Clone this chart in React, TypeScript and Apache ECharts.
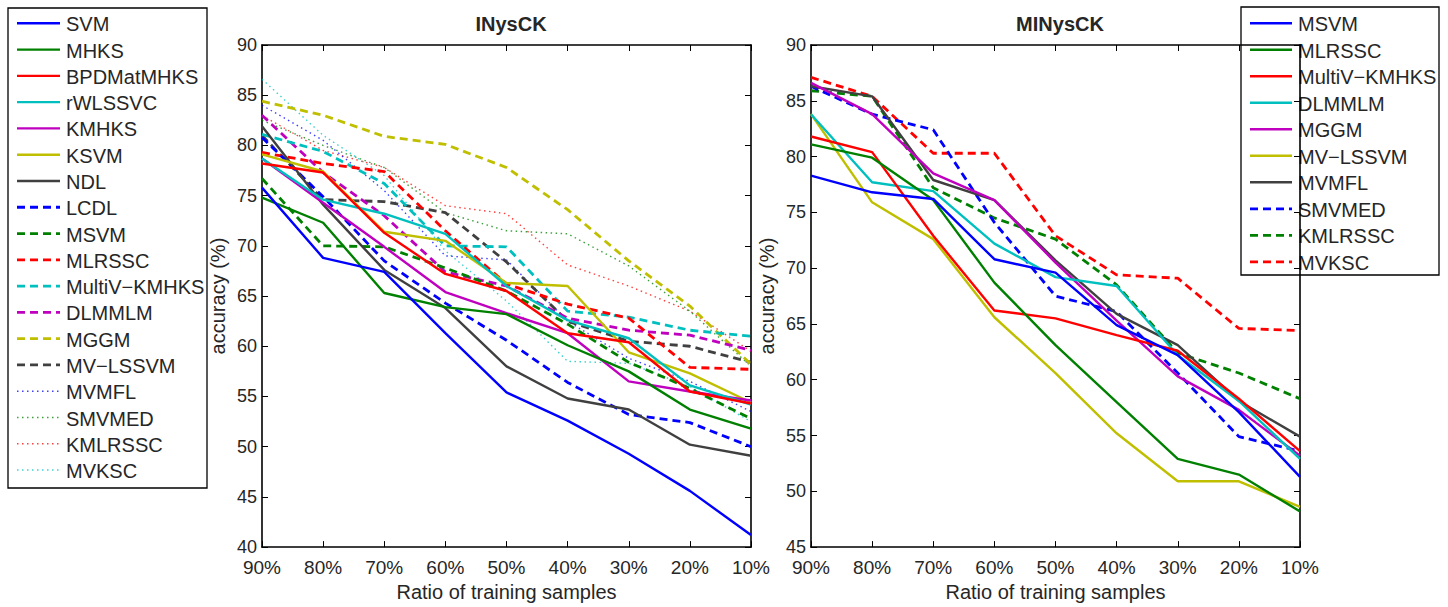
import React, { useEffect, useRef } from "react";
import * as echarts from "echarts";

const ratios = ["90%", "80%", "70%", "60%", "50%", "40%", "30%", "20%", "10%"];

// Left panel (INysCK)
const leftNames = ["SVM", "MHKS", "BPDMatMHKS", "rWLSSVC", "KMHKS", "KSVM", "NDL", "LCDL", "MSVM", "MLRSSC", "MultiV−KMHKS", "DLMMLM", "MGGM", "MV−LSSVM", "MVMFL", "SMVMED", "KMLRSSC", "MVKSC"];
const lSVM = [75.8, 68.8, 67.4, 61.3, 55.4, 52.6, 49.3, 45.6, 41.2];
const lMHKS = [74.8, 72.3, 65.3, 63.9, 63.2, 60.1, 57.5, 53.7, 51.8];
const lBPDMatMHKS = [78.2, 77.3, 71.3, 67.2, 65.5, 61.3, 60.4, 55.5, 54.3];
const lRWLSSVC = [78.7, 74.6, 73.2, 71.2, 66.0, 62.6, 60.8, 56.1, 54.2];
const lKMHKS = [78.7, 74.3, 69.9, 65.4, 63.3, 61.3, 56.5, 55.5, 54.6];
const lKSVM = [79.1, 77.4, 71.4, 70.5, 66.3, 66.0, 59.4, 57.3, 54.4];
const lNDL = [81.9, 74.1, 67.6, 63.8, 58.0, 54.8, 53.7, 50.2, 49.1];
const lLCDL = [80.8, 74.9, 68.5, 64.3, 60.6, 56.4, 53.2, 52.4, 50.0];
const lMSVM = [76.7, 70.0, 69.9, 67.8, 65.5, 62.2, 58.4, 55.8, 52.8];
const lMLRSSC = [79.3, 78.2, 77.4, 71.5, 66.2, 64.2, 62.8, 57.9, 57.7];
const lMultiV = [81.1, 79.4, 76.2, 70.0, 69.9, 63.5, 62.9, 61.6, 61.0];
const lDLMMLM = [83.0, 77.3, 73.0, 67.4, 66.0, 62.8, 61.6, 61.1, 59.6];
const lMGGM = [84.4, 83.0, 80.9, 80.1, 77.8, 73.6, 68.5, 64.0, 58.2];
const lMVLSSVM = [81.0, 74.6, 74.4, 73.3, 68.4, 62.5, 60.5, 60.0, 58.4];
const lMVMFL = [84.0, 80.5, 75.5, 69.0, 68.6, 62.5, 58.8, 56.5, 53.5];
const lSMVMED = [82.5, 80.0, 77.8, 73.3, 71.5, 71.2, 68.0, 63.5, 58.0];
const lKMLRSSC = [83.0, 79.5, 77.8, 74.0, 73.2, 68.1, 66.0, 63.5, 59.5];
const lMVKSC = [86.6, 81.0, 77.0, 69.5, 64.5, 58.5, 58.3, 56.0, 52.5];
const leftValues = [lSVM, lMHKS, lBPDMatMHKS, lRWLSSVC, lKMHKS, lKSVM, lNDL, lLCDL, lMSVM, lMLRSSC, lMultiV, lDLMMLM, lMGGM, lMVLSSVM, lMVMFL, lSMVMED, lKMLRSSC, lMVKSC];

// Right panel (MINysCK)
const rightNames = ["MSVM", "MLRSSC", "MultiV−KMHKS", "DLMMLM", "MGGM", "MV−LSSVM", "MVMFL", "SMVMED", "KMLRSSC", "MVKSC"];
const rMSVM = [78.3, 76.8, 76.2, 70.8, 69.6, 64.9, 62.2, 57.1, 51.3];
const rMLRSSC = [81.1, 79.9, 76.1, 68.7, 63.1, 58.0, 52.9, 51.5, 48.2];
const rMultiV = [81.8, 80.4, 72.9, 66.2, 65.5, 64.0, 62.6, 58.3, 53.6];
const rDLMMLM = [83.8, 77.7, 76.9, 72.2, 69.2, 68.4, 62.2, 58.1, 52.9];
const rMGGM = [86.6, 83.8, 78.5, 76.1, 70.5, 65.3, 60.3, 57.3, 53.2];
const rMVLSSVM = [83.8, 75.9, 72.6, 65.6, 60.6, 55.2, 50.9, 50.9, 48.6];
const rMVMFL = [86.3, 85.4, 77.9, 76.1, 70.7, 65.9, 63.1, 58.1, 54.9];
const rSMVMED = [86.3, 83.8, 82.4, 74.1, 67.5, 66.1, 60.6, 54.9, 53.6];
const rKMLRSSC = [85.9, 85.4, 77.2, 74.5, 72.6, 68.5, 62.4, 60.6, 58.3];
const rMVKSC = [87.1, 85.4, 80.3, 80.3, 72.9, 69.4, 69.1, 64.6, 64.4];
const rightValues = [rMSVM, rMLRSSC, rMultiV, rDLMMLM, rMGGM, rMVLSSVM, rMVMFL, rSMVMED, rKMLRSSC, rMVKSC];

const palette = ["#0000ff", "#008000", "#ff0000", "#00bfbf", "#bf00bf", "#bfbf00", "#404040"];

type Sty = { color: string; kind: "solid" | "dashed" | "dotted" };
const styleFor = (i: number): Sty => {
  const color = palette[i % 7];
  const kind = i < 7 ? "solid" : i < 14 ? "dashed" : "dotted";
  return { color, kind };
};

const lineStyleOf = (s: Sty) => {
  if (s.kind === "solid") return { color: s.color, width: 2.4, type: "solid" as any };
  if (s.kind === "dashed") return { color: s.color, width: 2.8, type: [8, 5] as any };
  return { color: s.color, width: 1.4, type: [1.5, 3.5] as any, opacity: 0.75 };
};

const FONT = "Liberation Sans, Arial, Helvetica, sans-serif";
const TXT = "#262626";

export default function App() {
  const ref = useRef<HTMLDivElement>(null);
  useEffect(() => {
    if (!ref.current) return;
    const chart = echarts.init(ref.current, undefined, { renderer: "svg" });

    const grids = [
      { left: 262, top: 45, width: 489, height: 513 },
      { left: 811, top: 45, width: 489, height: 513 },
    ];
    const yRanges = [
      [40, 90],
      [45, 90],
    ];

    const xAxis: any[] = [];
    const yAxis: any[] = [];
    grids.forEach((_, g) => {
      xAxis.push({
        type: "category",
        gridIndex: g,
        data: ratios,
        boundaryGap: false,
        position: "bottom",
        name: "Ratio of training samples",
        nameLocation: "middle",
        nameGap: 31,
        nameTextStyle: { fontFamily: FONT, fontSize: 20, color: TXT },
        axisLine: { lineStyle: { color: "#000", width: 1.6 } },
        axisTick: { inside: true, length: 6, lineStyle: { color: "#000" } },
        axisLabel: { fontFamily: FONT, fontSize: 19, color: TXT, margin: 11, interval: 0 },
        splitLine: { show: false },
      });
      xAxis.push({
        type: "category",
        gridIndex: g,
        data: ratios,
        boundaryGap: false,
        position: "top",
        axisLine: { lineStyle: { color: "#000", width: 1.6 } },
        axisTick: { inside: true, length: 6, lineStyle: { color: "#000" } },
        axisLabel: { show: false },
        splitLine: { show: false },
      });
      yAxis.push({
        type: "value",
        gridIndex: g,
        min: yRanges[g][0],
        max: yRanges[g][1],
        interval: 5,
        position: "left",
        name: "accuracy (%)",
        nameLocation: "middle",
        nameGap: 34,
        nameTextStyle: { fontFamily: FONT, fontSize: 20, color: TXT },
        axisLine: { show: true, lineStyle: { color: "#000", width: 1.6 } },
        axisTick: { show: true, inside: true, length: 6, lineStyle: { color: "#000" } },
        axisLabel: { fontFamily: FONT, fontSize: 18, color: TXT, margin: 5 },
        splitLine: { show: false },
      });
      yAxis.push({
        type: "value",
        gridIndex: g,
        min: yRanges[g][0],
        max: yRanges[g][1],
        interval: 5,
        position: "right",
        axisLine: { show: true, lineStyle: { color: "#000", width: 1.6 } },
        axisTick: { show: true, inside: true, length: 6, lineStyle: { color: "#000" } },
        axisLabel: { show: false },
        splitLine: { show: false },
      });
    });

    const series: any[] = [];
    leftNames.forEach((name, i) => {
      series.push({
        type: "line",
        name,
        xAxisIndex: 0,
        yAxisIndex: 0,
        data: leftValues[i],
        symbol: "none",
        lineStyle: lineStyleOf(styleFor(i)),
        z: 20 - i,
      });
    });
    rightNames.forEach((name, i) => {
      series.push({
        type: "line",
        name,
        xAxisIndex: 2,
        yAxisIndex: 2,
        data: rightValues[i],
        symbol: "none",
        lineStyle: lineStyleOf(styleFor(i)),
        z: 20 - i,
      });
    });

    const legendGraphic = (names: string[], box: { x: number; y: number; w: number; h: number }, y0: number, step: number, lx0: number, lx1: number, tx: number) => {
      const children: any[] = [
        { type: "rect", shape: { x: box.x, y: box.y, width: box.w, height: box.h }, style: { fill: "#fff", stroke: "#000", lineWidth: 1.3 } },
      ];
      names.forEach((n, i) => {
        const s = styleFor(i);
        const ls = lineStyleOf(s);
        const y = y0 + i * step;
        children.push({
          type: "line",
          shape: { x1: lx0, y1: y, x2: lx1, y2: y },
          style: { stroke: s.color, lineWidth: ls.width, lineDash: s.kind === "solid" ? null : ls.type, opacity: (ls as any).opacity ?? 1 },
        });
        children.push({
          type: "text",
          x: tx,
          y: y + 1,
          style: { text: n, fill: TXT, font: `20px ${FONT}`, verticalAlign: "middle", align: "left" },
        });
      });
      return { type: "group", children, z: 100 };
    };

    chart.setOption({
      animation: false,
      backgroundColor: "#fff",
      title: [
        { text: "INysCK", left: 506, top: 9, textAlign: "center", textStyle: { fontFamily: FONT, fontSize: 20, fontWeight: "bold", color: TXT } },
        { text: "MINysCK", left: 1055, top: 9, textAlign: "center", textStyle: { fontFamily: FONT, fontSize: 20, fontWeight: "bold", color: TXT } },
      ],
      grid: grids.map((g) => ({ ...g, containLabel: false })),
      xAxis,
      yAxis,
      series,
      graphic: [
        legendGraphic(leftNames, { x: 8, y: 8, w: 199, h: 480 }, 23.3, 26.28, 17, 60, 66),
        legendGraphic(rightNames, { x: 1241, y: 7, w: 198, h: 268 }, 23.3, 26.5, 1250, 1292, 1298),
      ],
    });
    return () => chart.dispose();
  }, []);
  return <div ref={ref} style={{ position: "fixed", left: 0, top: 0, width: 1448, height: 607 }} />;
}
